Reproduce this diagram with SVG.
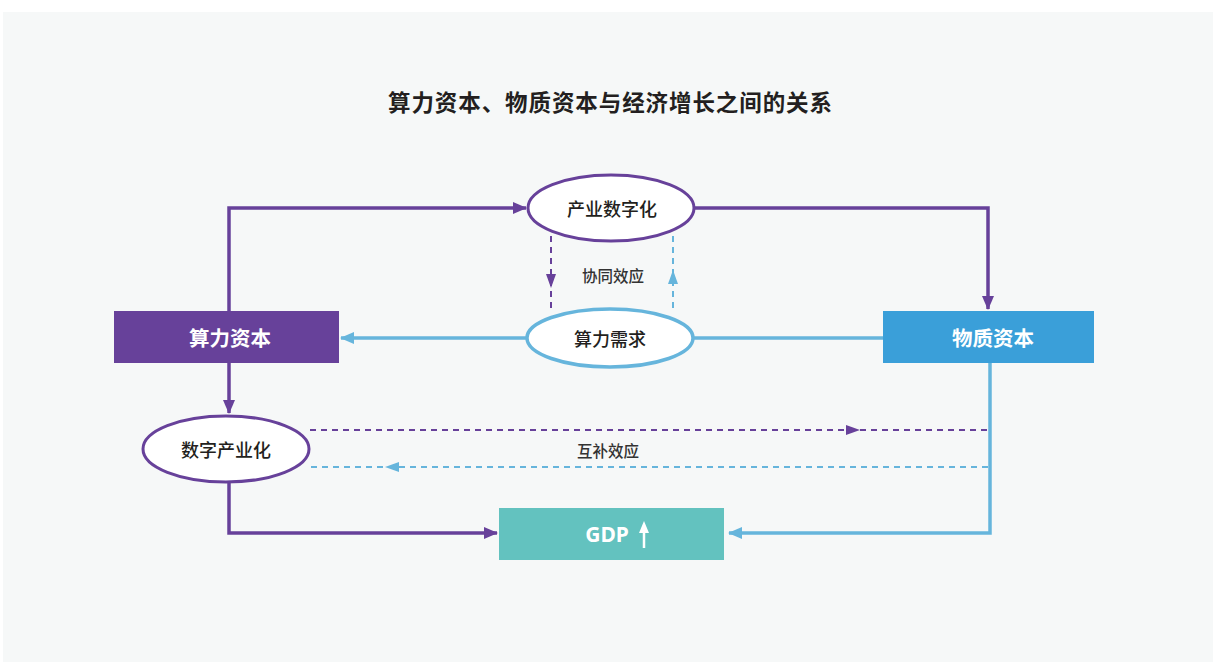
<svg xmlns="http://www.w3.org/2000/svg" width="1213" height="663" viewBox="0 0 1213 663">
<style>
.t{font-family:"Noto Sans CJK SC","Noto Sans",sans-serif;text-anchor:middle;dominant-baseline:central}
.title{font-size:22.5px;font-weight:700;fill:#231f20}
.box{font-size:20.5px;font-weight:700;fill:#ffffff}
.ell{font-size:18px;font-weight:500;fill:#231f20}
.lab{font-size:15.5px;font-weight:500;fill:#333333}
.p{stroke:#67419a;fill:none;stroke-width:3.5}
.b{stroke:#66b5dc;fill:none;stroke-width:3.5}
.pd{stroke:#67419a;fill:none;stroke-width:2;stroke-dasharray:6 5}
.bd{stroke:#66b5dc;fill:none;stroke-width:2;stroke-dasharray:6 5}
.hp{fill:#67419a}
.hb{fill:#66b5dc}
</style>
<defs>
<marker id="ap" markerWidth="14" markerHeight="12" refX="13" refY="6" orient="auto" markerUnits="userSpaceOnUse"><path d="M0,0 L14,6 L0,12 Z" fill="#67419a"/></marker>
<marker id="ab" markerWidth="14" markerHeight="12" refX="13" refY="6" orient="auto" markerUnits="userSpaceOnUse"><path d="M0,0 L14,6 L0,12 Z" fill="#66b5dc"/></marker>
</defs>
<rect x="0" y="0" width="1213" height="663" fill="#ffffff"/>
<rect x="3" y="12" width="1210" height="650" fill="#f6f8f8"/>
<text class="t title" x="610" y="101" textLength="444" lengthAdjust="spacing">算力资本、物质资本与经济增长之间的关系</text>

<g id="connectors">
<path class="p" d="M229,311 V208 H526" marker-end="url(#ap)"/>
<path class="p" d="M695,208 H988 V309" marker-end="url(#ap)"/>
<path class="b" d="M883,338 H693"/>
<path class="b" d="M526,338 H341" marker-end="url(#ab)"/>
<path class="p" d="M229,363 V413" marker-end="url(#ap)"/>
<path class="p" d="M229,483 V533 H497" marker-end="url(#ap)"/>
<path class="b" d="M990,363 V533 H729" marker-end="url(#ab)"/>
<path class="pd" d="M551,236 V310"/>
<polygon class="hp" points="546,274 556,274 551,288"/>
<path class="bd" d="M673,236 V310"/>
<polygon class="hb" points="668,284 678,284 673,270"/>
<path class="pd" d="M310,430 H988"/>
<polygon class="hp" points="846,425 846,435 860,430"/>
<path class="bd" d="M988,467 H310"/>
<polygon class="hb" points="399,462 399,472 385,467"/>
<text class="t lab" x="613" y="275">协同效应</text>
<text class="t lab" x="608" y="450">互补效应</text>
</g>

<g id="node-suanli-ziben">
<rect x="114" y="311" width="225" height="52" fill="#67419a"/>
<text class="t box" x="230" y="337">算力资本</text>
</g>
<g id="node-wuzhi-ziben">
<rect x="883" y="311" width="211" height="52" fill="#3a9fd9"/>
<text class="t box" x="993" y="337">物质资本</text>
</g>
<g id="node-chanye-shuzihua">
<ellipse cx="611" cy="208" rx="83" ry="33" fill="#ffffff" stroke="#67419a" stroke-width="3"/>
<text class="t ell" x="612" y="208">产业数字化</text>
</g>
<g id="node-suanli-xuqiu">
<ellipse cx="610" cy="338" rx="83" ry="29" fill="#ffffff" stroke="#66b5dc" stroke-width="3.5"/>
<text class="t ell" x="610" y="338">算力需求</text>
</g>
<g id="node-shuzi-chanyehua">
<ellipse cx="226" cy="449" rx="83" ry="33" fill="#ffffff" stroke="#67419a" stroke-width="3"/>
<text class="t ell" x="226" y="449">数字产业化</text>
</g>
<g id="node-gdp">
<rect x="499" y="508" width="225" height="52" fill="#63c2bf"/>
<text class="t box" x="607" y="534" style="font-family:'Noto Sans',sans-serif;font-size:21px">GDP</text>
<line x1="644" y1="548" x2="644" y2="530" stroke="#ffffff" stroke-width="2.5"/>
<polygon points="639,533 649,533 644,521" fill="#ffffff"/>
</g>
</svg>
